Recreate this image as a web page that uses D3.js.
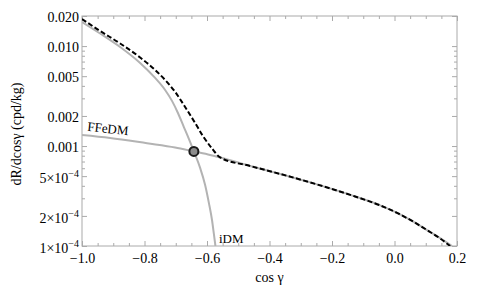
<!DOCTYPE html>
<html>
<head>
<meta charset="utf-8">
<script src="https://cdn.jsdelivr.net/npm/d3@7"></script>
<style>
  body { margin: 0; background: #fff; }
  svg { display: block; }
  svg text { font-family: "Liberation Serif", "Times New Roman", Times, "DejaVu Serif", serif; }
  .axis text { font-size: 14px; fill: #000; }
  .axis line { stroke: #aaa; }
  .axis path { display: none; }
</style>
</head>
<body>
<div id="chart"></div>
<script>
// tick values and labels
const xTicks = [-1.0, -0.8, -0.6, -0.4, -0.2, 0.0, 0.2];
const xTickLabels = ['\u22121.0', '\u22120.8', '\u22120.6', '\u22120.4', '\u22120.2', '0.0', '0.2'];
const xMinorTicks = [-0.95, -0.9, -0.85, -0.75, -0.7, -0.65, -0.55, -0.5, -0.45, -0.35, -0.3, -0.25,
  -0.15, -0.1, -0.05, 0.05, 0.1, 0.15];
const yTicks = [0.02, 0.01, 0.005, 0.002, 0.001, 5e-4, 2e-4, 1e-4];
const yTickLabels = ['0.020', '0.010', '0.005', '0.002', '0.001', '5\u00d710^\u22124', '2\u00d710^\u22124', '1\u00d710^\u22124'];
const yMinorTicks = [3e-4, 4e-4, 6e-4, 7e-4, 8e-4, 9e-4, 0.003, 0.004, 0.006, 0.007, 0.008, 0.009];

// iDM curve (gray)
const idmCos = [-1.0, -0.942, -0.878, -0.814, -0.766, -0.734, -0.712, -0.693, -0.674, -0.658,
  -0.642, -0.622, -0.606, -0.594, -0.584, -0.578, -0.573];
const idmRate = [0.0174, 0.01337, 0.0098, 0.00678, 0.0048, 0.00364, 0.00283, 0.00214, 0.00155, 0.00118,
  8.83e-4, 6.04e-4, 4.08e-4, 2.7e-4, 1.82e-4, 1.32e-4, 1.0e-4];

// FFeDM curve (gray)
const ffCos = [-1.0, -0.910, -0.792, -0.702, -0.642, -0.590, -0.558, -0.462, -0.366, -0.270, -0.206,
  -0.126, -0.046, 0.018, 0.059, 0.114, 0.146, 0.184];
const ffRate = [1.29e-3, 1.205e-3, 1.067e-3, 9.68e-4, 8.83e-4, 8.15e-4, 7.69e-4, 6.32e-4, 5.26e-4, 4.33e-4, 3.77e-4,
  3.13e-4, 2.55e-4, 2.07e-4, 1.76e-4, 1.38e-4, 1.2e-4, 1.0e-4];

// total (black dashed)
const totCos = [-1.0, -0.942, -0.878, -0.814, -0.766, -0.734, -0.702, -0.670, -0.638, -0.613, -0.584, -0.558,
  -0.462, -0.366, -0.270, -0.206, -0.126, -0.046, 0.018, 0.059, 0.114, 0.146, 0.178];
const totRate = [0.01866, 0.01416, 0.01062, 0.00769, 0.00577, 0.00458, 0.00348, 0.00246, 0.0017, 0.00126, 9.46e-4, 7.69e-4,
  6.32e-4, 5.26e-4, 4.33e-4, 3.77e-4, 3.13e-4, 2.55e-4, 2.07e-4, 1.76e-4, 1.38e-4, 1.19e-4, 1.0e-4];

// crossing marker
const markCos = [-0.642];
const markRate = [8.83e-4];

const width = 485, height = 296;
const margin = {top: 16, right: 28, bottom: 50, left: 82};
const serif = '"Liberation Serif", "Times New Roman", Times, serif';

const svg = d3.select('#chart').append('svg')
  .attr('width', width)
  .attr('height', height);

const x = d3.scaleLinear()
  .domain([-1, 0.2])
  .range([margin.left, width - margin.right]);

const y = d3.scaleLog()
  .domain([1e-4, 0.02])
  .range([height - margin.bottom, margin.top]);

// minor ticks
svg.append('g').attr('class', 'axis')
  .attr('transform', 'translate(0,' + y.range()[0] + ')')
  .call(d3.axisBottom(x).tickValues(xMinorTicks).tickSize(-3).tickFormat(''));
svg.append('g').attr('class', 'axis')
  .attr('transform', 'translate(0,' + y.range()[1] + ')')
  .call(d3.axisTop(x).tickValues(xMinorTicks).tickSize(-3).tickFormat(''));
svg.append('g').attr('class', 'axis')
  .attr('transform', 'translate(' + x.range()[0] + ',0)')
  .call(d3.axisLeft(y).tickValues(yMinorTicks).tickSize(-3).tickFormat(''));
svg.append('g').attr('class', 'axis')
  .attr('transform', 'translate(' + x.range()[1] + ',0)')
  .call(d3.axisRight(y).tickValues(yMinorTicks).tickSize(-3).tickFormat(''));

// major ticks
svg.append('g').attr('class', 'axis x')
  .attr('transform', 'translate(0,' + y.range()[0] + ')')
  .attr('font-family', serif)
  .call(d3.axisBottom(x).tickValues(xTicks).tickSize(-5).tickPadding(7)
    .tickFormat((d, i) => xTickLabels[i]))
  .attr('font-family', serif);
svg.append('g').attr('class', 'axis')
  .attr('transform', 'translate(0,' + y.range()[1] + ')')
  .call(d3.axisTop(x).tickValues(xTicks).tickSize(-5).tickFormat(''));
const yAx = svg.append('g').attr('class', 'axis y')
  .attr('transform', 'translate(' + x.range()[0] + ',0)')
  .call(d3.axisLeft(y).tickValues(yTicks).tickSize(-5).tickPadding(3)
    .tickFormat((d, i) => yTickLabels[i]))
  .attr('font-family', serif);
svg.append('g').attr('class', 'axis')
  .attr('transform', 'translate(' + x.range()[1] + ',0)')
  .call(d3.axisRight(y).tickValues(yTicks).tickSize(-5).tickFormat(''));

// superscripts on the log labels
yAx.selectAll('text').each(function() {
  const t = d3.select(this);
  const s = t.text();
  if (s.indexOf('^') < 0) {
    t.attr('dy', '0.38em');
    return;
  }
  const parts = s.split('^');
  t.text(null).attr('dy', '0.45em');
  t.append('tspan').text(parts[0]);
  t.append('tspan').attr('dy', '-0.55em').style('font-size', '10px').text(parts[1]);
});

// frame
svg.append('rect')
  .attr('x', x.range()[0])
  .attr('y', y.range()[1])
  .attr('width', x.range()[1] - x.range()[0])
  .attr('height', y.range()[0] - y.range()[1])
  .attr('fill', 'none')
  .attr('stroke', '#aaa')
  .attr('stroke-width', 1);

svg.append('clipPath').attr('id', 'clip')
  .append('rect')
  .attr('x', x.range()[0])
  .attr('y', y.range()[1] - 2)
  .attr('width', x.range()[1] - x.range()[0])
  .attr('height', y.range()[0] - y.range()[1] + 2);

const line = d3.line()
  .curve(d3.curveMonotoneX)
  .x((d) => x(d[0]))
  .y((d) => y(d[1]));

const plot = svg.append('g').attr('clip-path', 'url(#clip)');

plot.append('path')
  .datum(d3.zip(ffCos, ffRate))
  .attr('fill', 'none')
  .attr('stroke', '#b3b3b3')
  .attr('stroke-width', 2)
  .attr('d', line);

plot.append('path')
  .datum(d3.zip(idmCos, idmRate))
  .attr('fill', 'none')
  .attr('stroke', '#b3b3b3')
  .attr('stroke-width', 2)
  .attr('d', line);

plot.append('path')
  .datum(d3.zip(totCos, totRate))
  .attr('fill', 'none')
  .attr('stroke', '#000')
  .attr('stroke-width', 2)
  .attr('stroke-dasharray', '5,2.5')
  .attr('d', line);

svg.selectAll('.mark')
  .data(d3.zip(markCos, markRate))
  .enter()
  .append('circle')
  .attr('class', 'mark')
  .attr('cx', (d) => x(d[0]))
  .attr('cy', (d) => y(d[1]))
  .attr('r', 4.5)
  .attr('fill', '#8c8c8c')
  .attr('stroke', '#1a1a1a')
  .attr('stroke-width', 2);

// curve labels
svg.append('text')
  .attr('transform', 'translate(' + x(-0.984) + ',' + y(1.42e-3) + ') rotate(6)')
  .attr('font-family', serif)
  .style('font-size', '13px')
  .text('FFeDM');

svg.append('text')
  .attr('x', x(-0.562))
  .attr('y', y(1.06e-4))
  .attr('font-family', serif)
  .style('font-size', '13px')
  .text('iDM');

// axis titles
svg.append('text')
  .attr('x', (x.range()[0] + x.range()[1]) / 2)
  .attr('y', 282)
  .attr('text-anchor', 'middle')
  .attr('font-family', serif)
  .style('font-size', '14px')
  .text('cos \u03b3');

svg.append('text')
  .attr('transform', 'translate(21,' + ((y.range()[0] + y.range()[1]) / 2 + 3) + ') rotate(-90)')
  .attr('text-anchor', 'middle')
  .attr('font-family', serif)
  .style('font-size', '14px')
  .text('dR/dcos\u03b3 (cpd/kg)');
</script>
</body>
</html>
